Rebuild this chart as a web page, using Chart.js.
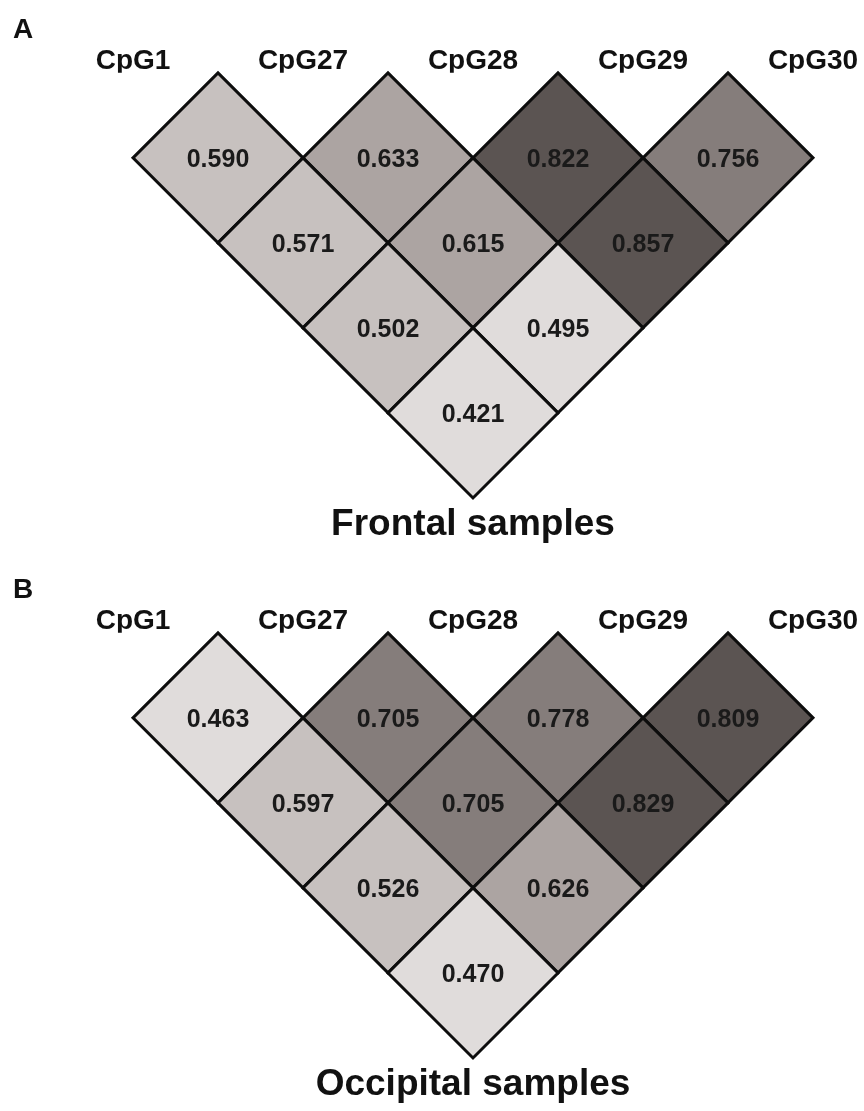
<!DOCTYPE html>
<html>
<head>
<meta charset="utf-8">
<title>CpG correlation heatmaps</title>
<script src="https://cdn.jsdelivr.net/npm/chart.js@4.4.1/dist/chart.umd.min.js"></script>
<style>
    html, body { margin: 0; padding: 0; background: #fff; }
    .panel { position: absolute; left: 0; width: 864px; height: 551px; }
    #panelA { top: 0; }
    #panelB { top: 560px; }
</style>
</head>
<body>
<div class="panel" id="panelA"><canvas id="frontalChart" width="864" height="551"></canvas></div>
<div class="panel" id="panelB"><canvas id="occipitalChart" width="864" height="551"></canvas></div>
<script>
const cpgSites = ['CpG1', 'CpG27', 'CpG28', 'CpG29', 'CpG30'];

// one array per distance between the two sites (1 = neighbours)
const frontalDist1 = [0.590, 0.633, 0.822, 0.756];
const frontalDist2 = [0.571, 0.615, 0.857];
const frontalDist3 = [0.502, 0.495];
const frontalDist4 = [0.421];

const occipitalDist1 = [0.463, 0.705, 0.778, 0.809];
const occipitalDist2 = [0.597, 0.705, 0.829];
const occipitalDist3 = [0.526, 0.626];
const occipitalDist4 = [0.470];

const FONT = "'Liberation Sans', Arial, sans-serif";
Chart.defaults.font.family = FONT;
Chart.defaults.color = '#111';

function cellColor(v) {
    if (v >= 0.8) return '#5b5452';
    if (v >= 0.7) return '#857d7b';
    if (v >= 0.6) return '#aca4a2';
    if (v >= 0.5) return '#c7c1bf';
    return '#e0dcdb';
}

function buildCells(rows) {
    const cells = [];
    rows.forEach((row, k) => {
        const dist = k + 1;
        row.forEach((v, i) => cells.push({ x: i + dist / 2, y: dist, v: v }));
    });
    return cells;
}

// value printed in the middle of every diamond
const cellLabels = {
    id: 'cellLabels',
    afterDatasetsDraw(chart) {
        const ctx = chart.ctx;
        const meta = chart.getDatasetMeta(0);
        const data = chart.data.datasets[0].data;
        ctx.save();
        ctx.font = 'bold 25px ' + FONT;
        ctx.fillStyle = '#1a1a1a';
        ctx.textAlign = 'center';
        ctx.textBaseline = 'middle';
        meta.data.forEach((pt, i) => {
            ctx.fillText(data[i].v.toFixed(3), pt.x, pt.y + 2);
        });
        ctx.restore();
    }
};

const panelLetter = {
    id: 'panelLetter',
    afterDraw(chart, args, opts) {
        const ctx = chart.ctx;
        ctx.save();
        ctx.font = 'bold 28px ' + FONT;
        ctx.fillStyle = '#111';
        ctx.textAlign = 'left';
        ctx.textBaseline = 'middle';
        ctx.fillText(opts.text, 13, 30);
        ctx.restore();
    }
};

function halfCell(c) {
    const s = c.chart.scales.x;
    return (s.getPixelForValue(1) - s.getPixelForValue(0)) / 2;
}

function makeHeatmap(canvasId, letter, caption, rows) {
    return new Chart(document.getElementById(canvasId), {
        type: 'scatter',
        data: {
            datasets: [{
                data: buildCells(rows),
                pointStyle: 'rectRot',
                pointRadius: halfCell,
                pointBackgroundColor: c => cellColor(c.raw.v),
                pointBorderColor: '#0d0d0d',
                pointBorderWidth: 3,
                clip: false
            }]
        },
        options: {
            responsive: false,
            animation: false,
            events: [],
            layout: { padding: { top: 49, left: 82, right: 0, bottom: 0 } },
            scales: {
                x: {
                    type: 'linear',
                    position: 'top',
                    min: -0.3,
                    max: 4.3,
                    grid: { display: false, drawTicks: false },
                    border: { display: false },
                    afterBuildTicks: s => { s.ticks = cpgSites.map((_, i) => ({ value: i })); },
                    ticks: {
                        padding: 0,
                        autoSkip: false,
                        maxRotation: 0,
                        color: '#111',
                        font: { size: 28, weight: 'bold', lineHeight: 0.85 },
                        callback: (v, i) => cpgSites[i]
                    }
                },
                y: { type: 'linear', display: false, reverse: true, min: 0, max: 5 }
            },
            plugins: {
                legend: { display: false },
                tooltip: { enabled: false },
                title: { display: false },
                subtitle: {
                    display: true,
                    position: 'bottom',
                    text: caption,
                    color: '#111',
                    font: { size: 37, weight: 'bold', lineHeight: 1 },
                    padding: { top: 8, bottom: 8 }
                },
                panelLetter: { text: letter }
            }
        },
        plugins: [cellLabels, panelLetter]
    });
}

makeHeatmap('frontalChart', 'A', 'Frontal samples',
    [frontalDist1, frontalDist2, frontalDist3, frontalDist4]);
makeHeatmap('occipitalChart', 'B', 'Occipital samples',
    [occipitalDist1, occipitalDist2, occipitalDist3, occipitalDist4]);
</script>
</body>
</html>
